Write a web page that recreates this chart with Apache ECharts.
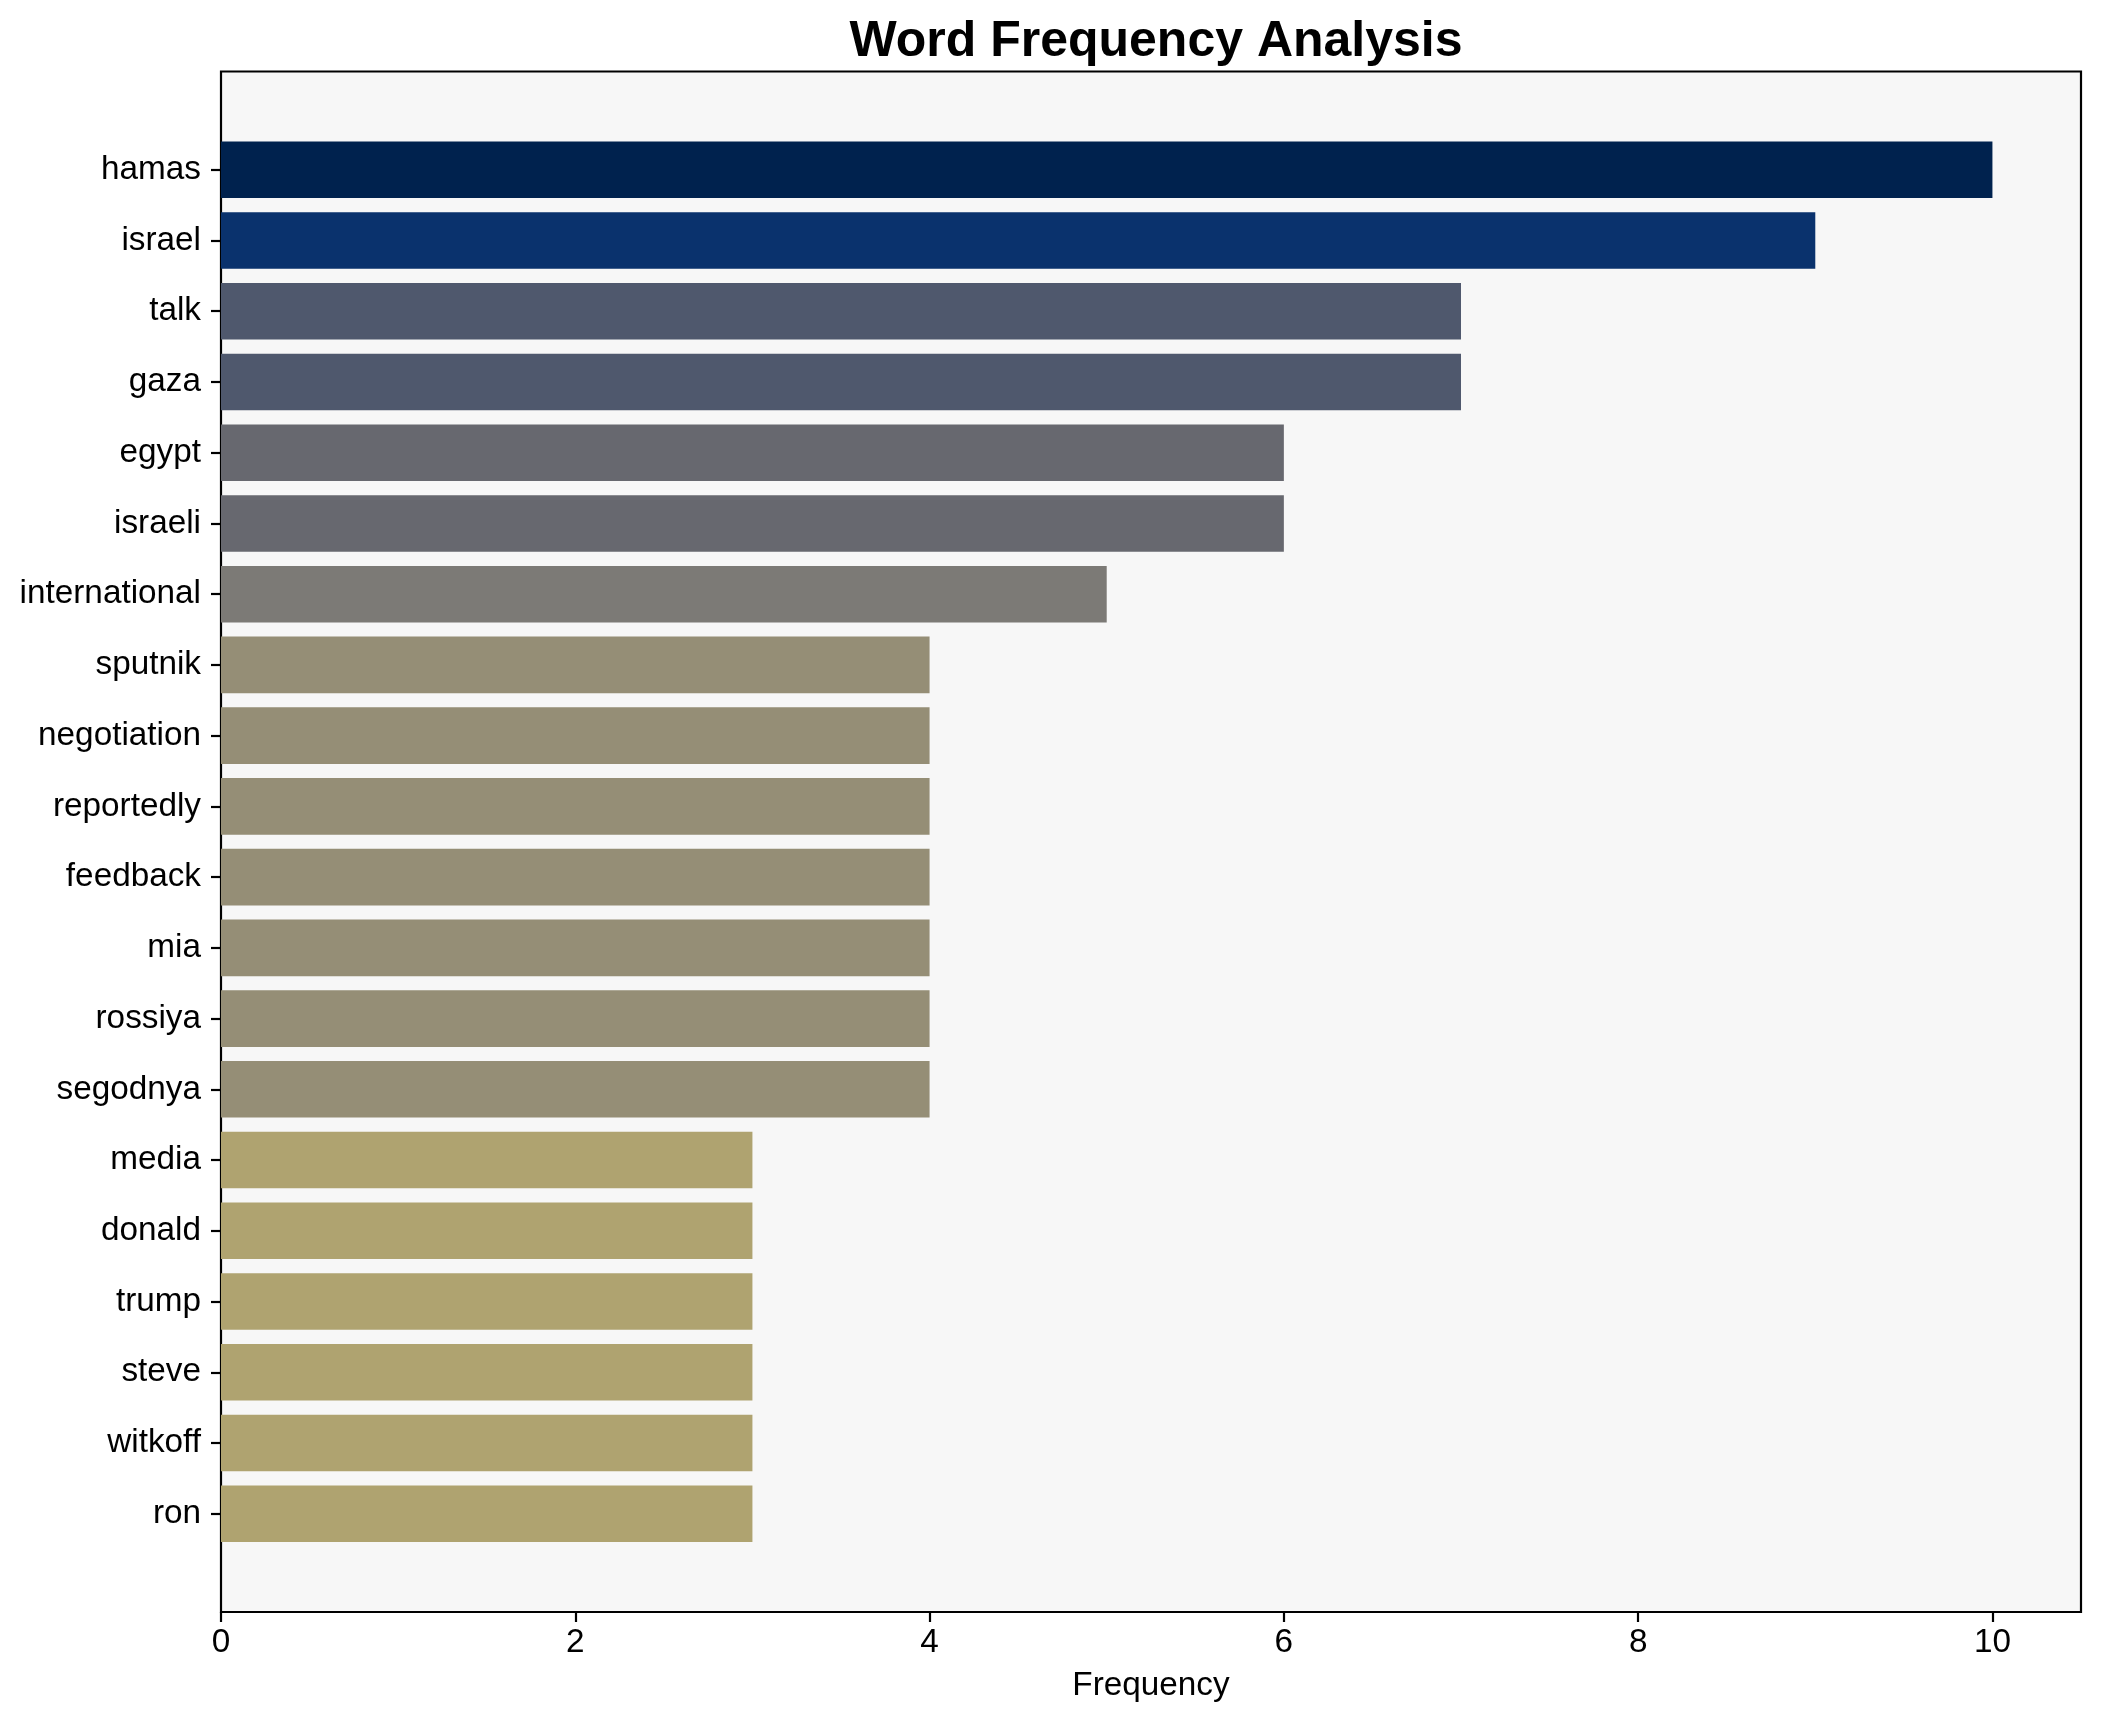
<!DOCTYPE html>
<html>
<head>
<meta charset="utf-8">
<style>
  html, body { margin: 0; padding: 0; background: #ffffff; }
  #chart { width: 2101px; height: 1722px; }
</style>
<script src="https://cdn.jsdelivr.net/npm/echarts@6/dist/echarts.min.js"></script>
</head>
<body>
<div id="chart"></div>
<script>
// ---- data ----
const words = ['hamas', 'israel', 'talk', 'gaza', 'egypt', 'israeli', 'international',
  'sputnik', 'negotiation', 'reportedly', 'feedback', 'mia', 'rossiya', 'segodnya',
  'media', 'donald', 'trump', 'steve', 'witkoff', 'ron'];
const frequencies = [10, 9, 7, 7, 6, 6, 5, 4, 4, 4, 4, 4, 4, 4, 3, 3, 3, 3, 3, 3];
const xTicks = [0, 2, 4, 6, 8, 10];

// ---- styles ----
const colorByValue = {
  10: '#00224e', 9: '#0a326d', 7: '#4f586d', 6: '#67686f',
  5: '#7c7a76', 4: '#958e76', 3: '#afa370'
};
const FONT = '"Liberation Sans", Arial, sans-serif';

const chart = echarts.init(document.getElementById('chart'), null, { renderer: 'canvas' });

chart.setOption({
  animation: false,
  backgroundColor: '#ffffff',
  title: {
    text: 'Word Frequency Analysis',
    left: 1151,
    top: 12,
    textAlign: 'center',
    textStyle: { fontFamily: FONT, fontSize: 50, fontWeight: 'bold', color: '#000' }
  },
  grid: [
    { left: 221, right: 20, top: 71.5, bottom: 110, show: true,
      backgroundColor: '#f7f7f7', borderColor: '#000', borderWidth: 2.2 },
    { left: 221, right: 20, top: 134.4, bottom: 172.9, show: false }
  ],
  xAxis: [
    {
      gridIndex: 0, type: 'value', min: 0, max: 10.5,
      name: 'Frequency', nameLocation: 'middle', nameGap: 57,
      nameTextStyle: { fontFamily: FONT, fontSize: 33.3, color: '#000' },
      axisLine: { show: true, lineStyle: { color: '#000', width: 2.2 } },
      axisTick: { show: true, inside: false, length: 10, customValues: xTicks,
        lineStyle: { color: '#000', width: 2.2 } },
      axisLabel: { show: true, margin: 14, customValues: xTicks,
        fontFamily: FONT, fontSize: 33.3, color: '#000' },
      splitLine: { show: false }
    },
    {
      gridIndex: 1, type: 'value', min: 0, max: 10.5, show: false
    }
  ],
  yAxis: [
    { gridIndex: 0, type: 'value', min: 0, max: 1, show: false },
    {
      gridIndex: 1, type: 'category', data: words, inverse: true,
      axisLine: { show: false },
      axisTick: { show: true, alignWithLabel: true, length: 10,
        lineStyle: { color: '#000', width: 2.2 } },
      axisLabel: { margin: 20, padding: [8, 0, 0, 0],
        fontFamily: FONT, fontSize: 33.3, color: '#000' },
      splitLine: { show: false }
    }
  ],
  series: [
    {
      type: 'bar',
      xAxisIndex: 1,
      yAxisIndex: 1,
      barWidth: '80%',
      data: frequencies.map(v => ({ value: v, itemStyle: { color: colorByValue[v] } }))
    }
  ]
});
</script>
</body>
</html>
